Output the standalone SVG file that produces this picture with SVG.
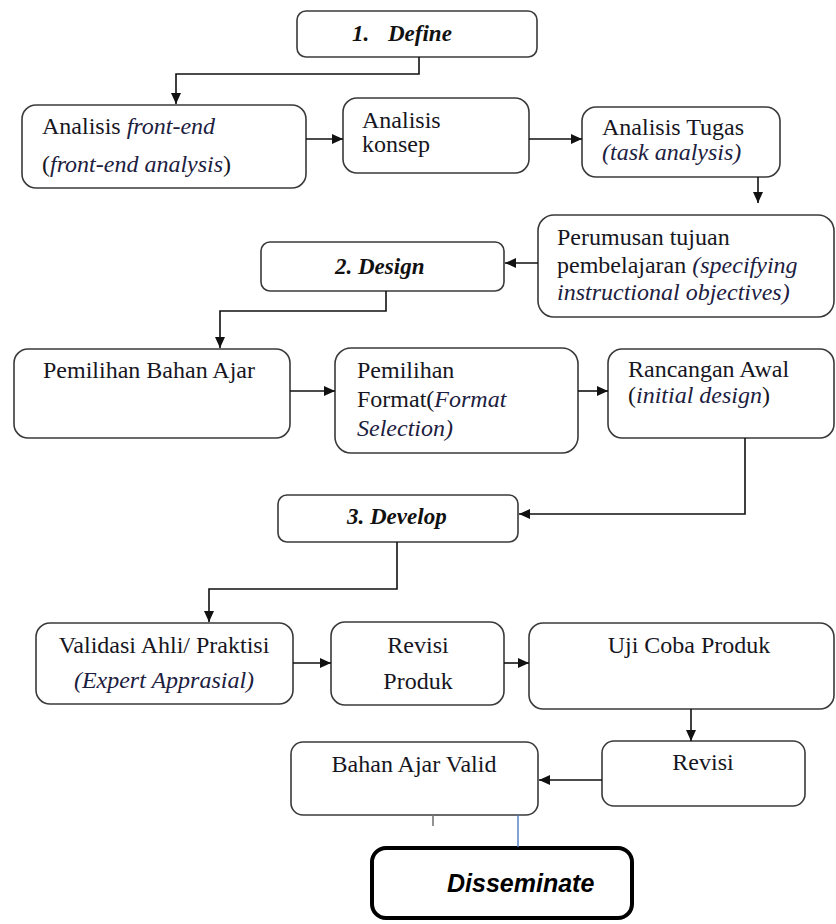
<svg xmlns="http://www.w3.org/2000/svg" width="836" height="924" viewBox="0 0 836 924">
<defs>
<marker id="arr" markerUnits="userSpaceOnUse" markerWidth="11" markerHeight="10" refX="11" refY="5" orient="auto">
<path d="M0,0 L11,5 L0,10 z" fill="#111"/>
</marker>
<style>
.box{fill:#fff;stroke:#3a3a3a;stroke-width:1.6}
.t{font-family:"Liberation Serif","Times New Roman",serif;font-size:24px;fill:#161622}
.i{font-style:italic;fill:#1c2040}
.h{font-family:"Liberation Serif","Times New Roman",serif;font-size:23px;font-weight:bold;font-style:italic;fill:#111}
.c{text-anchor:middle}
.ln{fill:none;stroke:#111;stroke-width:1.6}
</style>
</defs>
<rect width="836" height="924" fill="#fff"/>

<g id="define">
<rect class="box" x="297" y="11" width="240" height="46" rx="9"/>
<text class="h" x="352" y="41">1.</text>
<text class="h" x="388" y="41">Define</text>
</g>

<g id="frontend">
<rect class="box" x="22" y="105" width="284" height="83" rx="14"/>
<text class="t" x="42" y="134">Analisis <tspan class="i">front-end</tspan></text>
<text class="t" x="42" y="172">(<tspan class="i">front-end analysis</tspan>)</text>
</g>

<g id="konsep">
<rect class="box" x="343" y="98" width="186" height="75" rx="14"/>
<text class="t" x="362" y="128">Analisis</text>
<text class="t" x="362" y="152">konsep</text>
</g>

<g id="tugas">
<rect class="box" x="582" y="107" width="198" height="70" rx="14"/>
<text class="t" x="602" y="135">Analisis Tugas</text>
<text class="t i" x="602" y="160">(task analysis)</text>
</g>

<g id="perumusan">
<rect class="box" x="538" y="215" width="296" height="102" rx="16"/>
<text class="t" x="557" y="245">Perumusan tujuan</text>
<text class="t" x="557" y="273">pembelajaran <tspan class="i">(specifying</tspan></text>
<text class="t i" x="557" y="300">instructional objectives)</text>
</g>

<g id="design">
<rect class="box" x="261" y="242" width="243" height="49" rx="9"/>
<text class="h" x="335" y="274">2. Design</text>
</g>

<g id="bahan">
<rect class="box" x="14" y="349" width="276" height="89" rx="14"/>
<text class="t" x="43" y="378">Pemilihan Bahan Ajar</text>
</g>

<g id="format">
<rect class="box" x="335" y="348" width="243" height="105" rx="16"/>
<text class="t" x="357" y="378">Pemilihan</text>
<text class="t" x="357" y="407">Format(<tspan class="i">Format</tspan></text>
<text class="t i" x="357" y="436">Selection)</text>
</g>

<g id="rancangan">
<rect class="box" x="608" y="349" width="226" height="89" rx="14"/>
<text class="t" x="628" y="377">Rancangan Awal</text>
<text class="t" x="628" y="403">(<tspan class="i">initial design</tspan>)</text>
</g>

<g id="develop">
<rect class="box" x="278" y="495" width="240" height="47" rx="9"/>
<text class="h" x="347" y="524">3. Develop</text>
</g>

<g id="validasi">
<rect class="box" x="36" y="623" width="257" height="81" rx="14"/>
<text class="t c" x="164" y="653">Validasi Ahli/ Praktisi</text>
<text class="t i c" x="164" y="688">(Expert Apprasial)</text>
</g>

<g id="revisiproduk">
<rect class="box" x="331" y="622" width="173" height="83" rx="14"/>
<text class="t c" x="418" y="653">Revisi</text>
<text class="t c" x="418" y="689">Produk</text>
</g>

<g id="ujicoba">
<rect class="box" x="529" y="623" width="305" height="86" rx="14"/>
<text class="t c" x="689" y="653">Uji Coba Produk</text>
</g>

<g id="revisi">
<rect class="box" x="602" y="741" width="203" height="65" rx="12"/>
<text class="t c" x="703" y="770">Revisi</text>
</g>

<g id="valid">
<rect class="box" x="291" y="742" width="247" height="73" rx="12"/>
<text class="t c" x="414" y="772">Bahan Ajar Valid</text>
</g>

<g id="disseminate">
<rect x="372" y="848" width="260" height="70" rx="14" fill="#fff" stroke="#000" stroke-width="4"/>
<text x="447" y="892" font-family="'Liberation Sans',Arial,sans-serif" font-size="25" font-weight="bold" font-style="italic" fill="#000">Disseminate</text>
</g>

<g id="connectors">
<polyline class="ln" points="419,57 419,74 176,74 176,104" marker-end="url(#arr)"/>
<line class="ln" x1="306" y1="139" x2="343" y2="139" marker-end="url(#arr)"/>
<line class="ln" x1="529" y1="139" x2="582" y2="139" marker-end="url(#arr)"/>
<line class="ln" x1="758" y1="177" x2="758" y2="203" marker-end="url(#arr)"/>
<line class="ln" x1="538" y1="263" x2="505" y2="263" marker-end="url(#arr)"/>
<polyline class="ln" points="386,291 386,311 220,311 220,348" marker-end="url(#arr)"/>
<line class="ln" x1="290" y1="391" x2="335" y2="391" marker-end="url(#arr)"/>
<line class="ln" x1="578" y1="391" x2="608" y2="391" marker-end="url(#arr)"/>
<polyline class="ln" points="745,438 745,514 519,514" marker-end="url(#arr)"/>
<polyline class="ln" points="397,542 397,589 209,589 209,622" marker-end="url(#arr)"/>
<line class="ln" x1="293" y1="663" x2="331" y2="663" marker-end="url(#arr)"/>
<line class="ln" x1="504" y1="663" x2="529" y2="663" marker-end="url(#arr)"/>
<line class="ln" x1="691" y1="709" x2="691" y2="741" marker-end="url(#arr)"/>
<line class="ln" x1="602" y1="780" x2="539" y2="780" marker-end="url(#arr)"/>
<line x1="433" y1="815" x2="433" y2="826" stroke="#777" stroke-width="1.6"/>
<line x1="518" y1="815" x2="518" y2="847" stroke="#4a7cc4" stroke-width="1.4"/>
</g>
</svg>
